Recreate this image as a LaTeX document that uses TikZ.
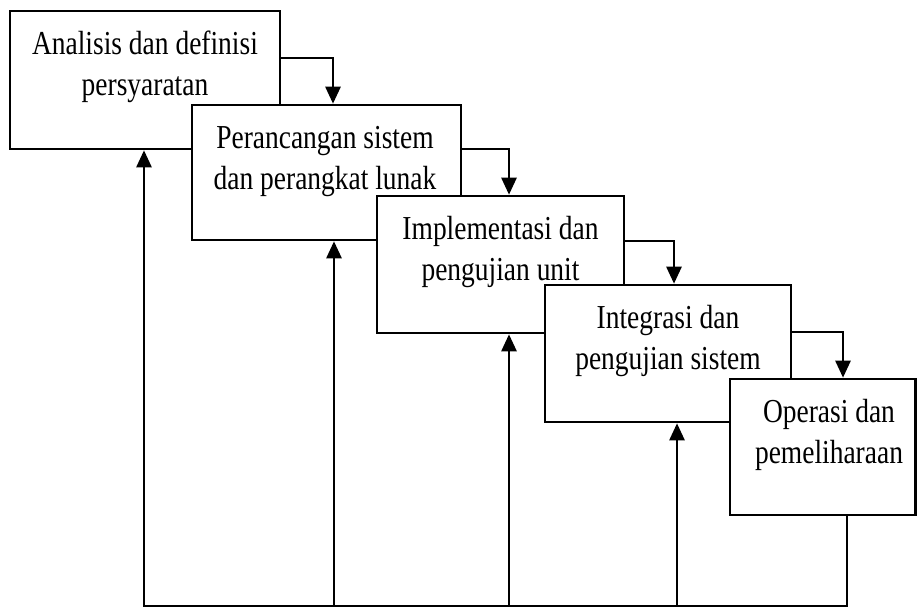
\documentclass[tikz,border=0pt]{standalone}
\usepackage{fontspec}
\usepackage{graphicx}
\setmainfont{Liberation Serif}
\usetikzlibrary{arrows.meta}

\newcommand{\steptext}[2]{\scalebox{0.82}[1]{\begin{tabular}[t]{@{}c@{}}#1\\#2\end{tabular}}}

\begin{document}
\begin{tikzpicture}[x=1pt, y=-1pt,
        stage/.style={draw=black, line width=2.6pt, fill=white},
        stagetext/.style={anchor=base, inner sep=0pt, font=\fontsize{33.5}{41}\selectfont},
        flow/.style={line width=2.6pt, -{Triangle[width=15pt,length=17pt]}},
        line/.style={line width=2.6pt, line cap=rect}]
        \useasboundingbox (0,0) rectangle (917,607);
        % stages
        \node[stage, minimum width=270pt, minimum height=138pt] at (145, 80) (b1) {};
        \node[stagetext] at (145, 55) (t1) {\steptext{Analisis dan definisi}{persyaratan}};
        \node[stage, minimum width=269pt, minimum height=135pt] at (326.5, 172.5) (b2) {};
        \node[stagetext] at (325, 148) (t2) {\steptext{Perancangan sistem}{dan perangkat lunak}};
        \node[stage, minimum width=247pt, minimum height=137pt] at (500.5, 264.5) (b3) {};
        \node[stagetext] at (500.5, 239) (t3) {\steptext{Implementasi dan}{pengujian unit}};
        \node[stage, minimum width=246pt, minimum height=137pt] at (668, 353.5) (b4) {};
        \node[stagetext] at (668, 328) (t4) {\steptext{Integrasi dan}{pengujian sistem}};
        \node[stage, minimum width=185.5pt, minimum height=136pt] at (822.75, 447) (b5) {};
        \node[stagetext] at (829, 422) (t5) {\steptext{Operasi dan}{pemeliharaan}};
        % forward flow
        \coordinate (k1) at (333, 58);
        \coordinate (k2) at (509, 149);
        \coordinate (k3) at (674, 241);
        \coordinate (k4) at (843, 332);
        \draw[flow] (b1.east |- k1) -| (k1 |- b2.north);
        \draw[flow] (b2.east |- k2) -| (k2 |- b3.north);
        \draw[flow] (b3.east |- k3) -| (k3 |- b4.north);
        \draw[flow] (b4.east |- k4) -| (k4 |- b5.north);
        % feedback
        \coordinate (f1) at (144, 606);
        \coordinate (f2) at (334, 606);
        \coordinate (f3) at (509, 606);
        \coordinate (f4) at (677, 606);
        \coordinate (f5) at (847, 606);
        \draw[line] (f5 |- b5.south) -- (f5) -- (f1);
        \draw[flow] (f1) -- (f1 |- b1.south);
        \draw[flow] (f2) -- (f2 |- b2.south);
        \draw[flow] (f3) -- (f3 |- b3.south);
        \draw[flow] (f4) -- (f4 |- b4.south);
    \end{tikzpicture}
\end{document}
